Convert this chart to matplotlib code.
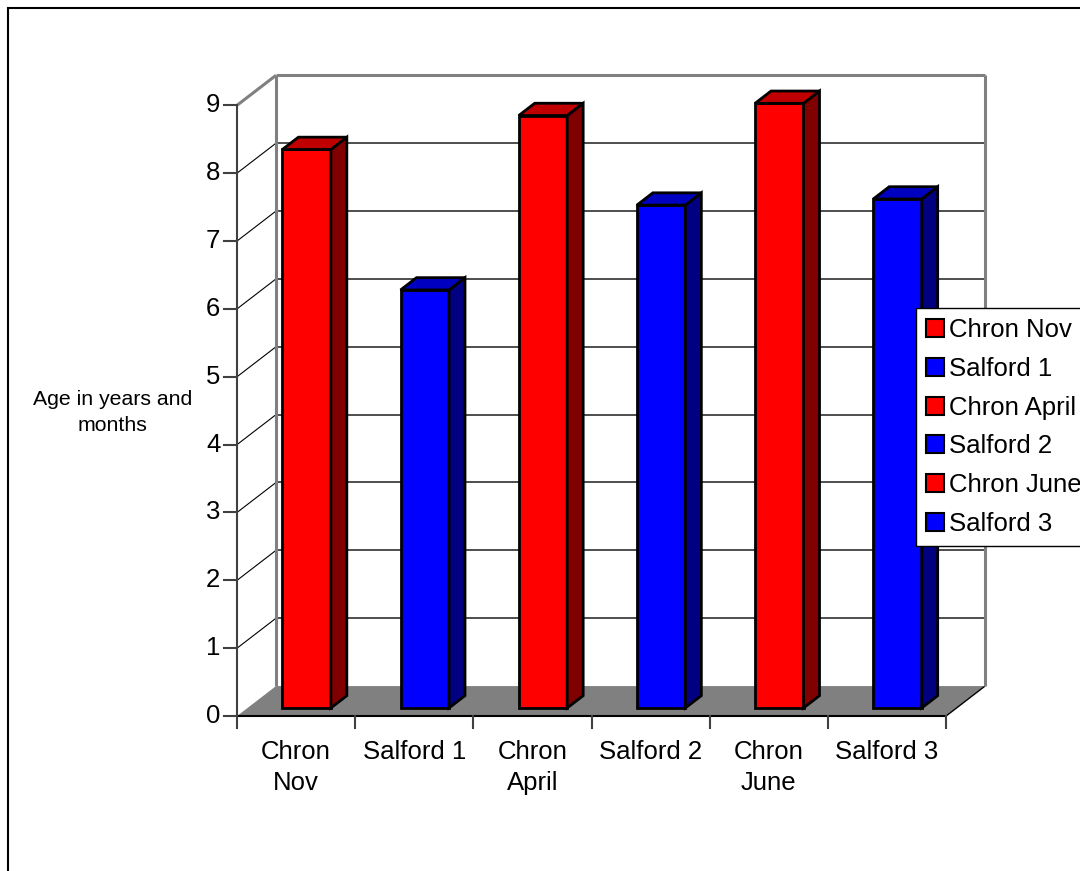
import matplotlib.pyplot as plt
from matplotlib.patches import Polygon, Rectangle, Patch

plt.rcParams['font.family'] = ['Liberation Sans', 'DejaVu Sans']

# data
categories = ['Chron\nNov', 'Salford 1', 'Chron\nApril', 'Salford 2', 'Chron\nJune', 'Salford 3']
series_names = ['Chron Nov', 'Salford 1', 'Chron April', 'Salford 2', 'Chron June', 'Salford 3']
ages = [8.23, 6.16, 8.73, 7.41, 8.91, 7.50]
groups = ['chron', 'salford', 'chron', 'salford', 'chron', 'salford']
y_ticks = [0, 1, 2, 3, 4, 5, 6, 7, 8, 9]
y_label = 'Age in years and\nmonths'

# face colours: front, top, side
colours = {
    'chron': ('#FF0000', '#C00000', '#800000'),
    'salford': ('#0000FF', '#0000C0', '#000080'),
}

# oblique 3D look: shift per unit of depth (in data units)
DX, DY = 0.33, 0.442
D0, D1 = 0.27, 0.68     # bar depth range
W = 0.41                # bar width
YMAX = 9


def P(x, y, z):
    return (x + z * DX, y + z * DY)


def poly(ax, pts, fc, ec='none', lw=0, z=1):
    ax.add_patch(Polygon([P(*p) for p in pts], closed=True, facecolor=fc,
                         edgecolor=ec, linewidth=lw, zorder=z, joinstyle='miter'))


def line(ax, a, b, color, lw, z=2):
    xa, ya = P(*a)
    xb, yb = P(*b)
    ax.plot([xa, xb], [ya, yb], color=color, lw=lw, zorder=z, solid_capstyle='butt')


fig = plt.figure(figsize=(10.8, 8.71), dpi=100)
ax = fig.add_axes([0, 0, 1, 1])
ax.set_xlim(-2.0056, 7.1338)
ax.set_ylim(-2.283, 10.552)
ax.axis('off')

n = len(categories)

# floor
poly(ax, [(0, 0, 0), (n, 0, 0), (n, 0, 1), (0, 0, 1)], '#808080', z=1)
line(ax, (n, 0, 0), (n, 0, 1), 'black', 1.0)

# gridlines on back and side walls
for v in y_ticks[1:-1]:
    line(ax, (0, v, 1), (n, v, 1), '#404040', 1.3)
    line(ax, (0, v, 0), (0, v, 1), 'black', 0.8)

# wall edges
line(ax, (0, 0, 1), (0, YMAX, 1), '#808080', 2.2)
line(ax, (0, YMAX, 1), (n, YMAX, 1), '#808080', 2.2)
line(ax, (n, YMAX, 1), (n, 0, 1), '#808080', 2.2)
line(ax, (0, YMAX, 0), (0, YMAX, 1), '#808080', 2.2)

# front axes
line(ax, (0, 0, 0), (0, YMAX, 0), '#404040', 1.5)
line(ax, (0, 0, 0), (n, 0, 0), 'black', 1.5)
for v in y_ticks:
    ax.plot([-0.11, 0], [v, v], color='#404040', lw=1.5, zorder=2)
    ax.text(-0.14, v, str(v), ha='right', va='center', fontsize=18.5)
for i in range(n + 1):
    ax.plot([i, i], [0, -0.18], color='#404040', lw=1.5, zorder=2)
for i, lab in enumerate(categories):
    ax.text(i + 0.5, -0.35, lab, ha='center', va='top', fontsize=18.5, linespacing=1.38)

ax.text(-1.05, 4.47, y_label, ha='center', va='center', fontsize=15.3, linespacing=1.48)

# bars
for i, (v, g) in enumerate(zip(ages, groups)):
    front, top, side = colours[g]
    x0 = i + (1 - W) / 2
    x1 = x0 + W
    kw = dict(ec='black', lw=2.0, z=3)
    poly(ax, [(x0, 0, D0), (x1, 0, D0), (x1, v, D0), (x0, v, D0)], front, **kw)
    poly(ax, [(x1, 0, D0), (x1, 0, D1), (x1, v, D1), (x1, v, D0)], side, **kw)
    poly(ax, [(x0, v, D0), (x1, v, D0), (x1, v, D1), (x0, v, D1)], top, **kw)

# legend
handles = [Patch(facecolor=colours[g][0], edgecolor='black', linewidth=1.5) for g in groups]
leg = ax.legend(handles, series_names, loc='upper left',
                bbox_to_anchor=(916 / 1080, 1 - 308 / 871), bbox_transform=fig.transFigure,
                borderaxespad=0, fontsize=18.5, handlelength=0.7, handleheight=0.7,
                handletextpad=0.22, labelspacing=0.58, borderpad=0.38,
                fancybox=False, framealpha=1, edgecolor='black')
leg.get_frame().set_linewidth(1.0)
leg.set_zorder(10)

# outer chart border (runs off the right and bottom edges)
fig.add_artist(Rectangle((8 / 1080, -0.1), 1.2, 1.1 - 8 / 871, transform=fig.transFigure,
                         fill=False, edgecolor='black', linewidth=1.5))

fig.savefig('out.png', dpi=100)
